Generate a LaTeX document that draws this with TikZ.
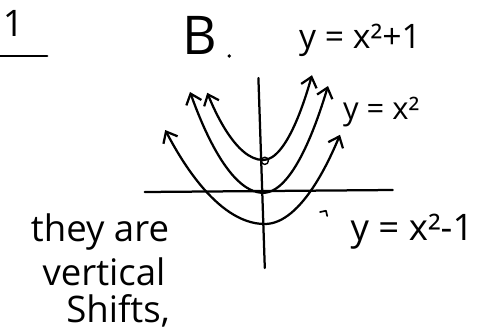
\documentclass[tikz,border=0pt]{standalone}
\usepackage{fontspec}
\setmainfont{Open Sans}
\usetikzlibrary{arrows.meta}

\tikzset{
  hand/.style={font=\fontsize{26}{30}\selectfont,inner sep=0pt},
  curve/.style={<->,line width=1.6pt}
}

\begin{document}
\begin{tikzpicture}[>={Straight Barb[length=2.4mm,width=4mm]},line width=1.6pt,line cap=round,line join=round]
\useasboundingbox (0,0) rectangle (12.3,8.3);
% problem number and part
\node[hand,font=\fontsize{26}{28}\selectfont] (num) at (0.33,7.72) {1};
\draw (0,6.9) -- (1.18,6.9);
\node[hand,font=\fontsize{38}{42}\selectfont] (part) at (5.0,7.42) {B};
\fill (5.73,6.9) circle (1.3pt);
% axes
\draw (3.62,3.5) -- (9.82,3.55);
\draw (6.46,6.35) -- (6.62,1.6);
% vertices
\coordinate (vup) at (6.58,4.3);
\coordinate (vmid) at (6.58,3.48);
\coordinate (vdown) at (6.62,2.7);
% three parabolas
\draw[curve] (5.18,5.98) parabola bend (vup) (7.8,6.42);
\draw[curve] (4.75,6.0) parabola bend (vmid) (8.2,6.15);
\draw[curve] (4.13,5.05) parabola bend (vdown) (8.5,4.93);
\draw[line width=1pt] (6.62,4.28) circle (0.09);
% labels
\node[hand,font=\fontsize{24}{28}\selectfont] (lblup) at (9.0,7.3) {y = x²+1};
\node[hand,font=\fontsize{22}{26}\selectfont] (lblmid) at (9.53,5.5) {y = x²};
\draw[line width=1.2pt] (8.0,3.0) -- (8.15,3.03) -- (8.18,2.9);
\node[hand,font=\fontsize{26}{29}\selectfont] (lbldown) at (10.3,2.5) {y = x²-1};
\node[hand] (note1) at (2.5,2.5) {they are};
\node[hand] (note2) at (2.6,1.5) {vertical};
\node[hand] (note3) at (2.95,0.52) {Shifts,};
\end{tikzpicture}
\end{document}
